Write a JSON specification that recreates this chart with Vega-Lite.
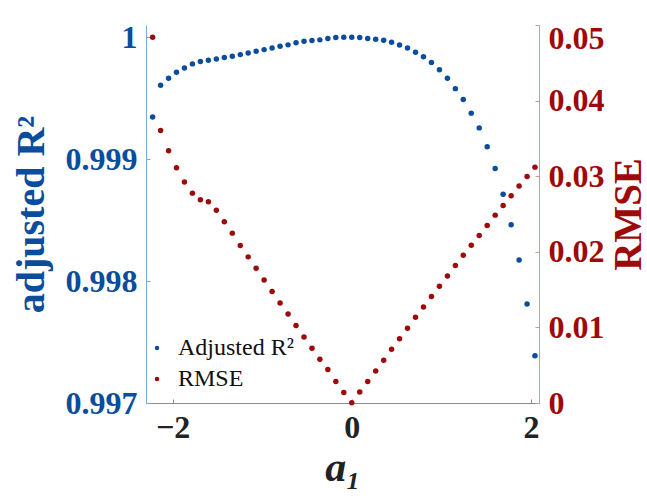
{
  "$schema": "https://vega.github.io/schema/vega-lite/v6.json",
  "width": 393,
  "height": 378,
  "autosize": {"type": "none"},
  "padding": {"left": 146, "top": 25, "right": 108, "bottom": 97},
  "background": "white",
  "config": {
    "view": {"stroke": null},
    "font": "Liberation Serif",
    "axis": {"grid": false, "labelFont": "Liberation Serif", "titleFont": "Liberation Serif", "labelFontWeight": "bold", "titleFontWeight": "bold"}
  },
  "data": {
    "values": [
      {"a1": -2.222, "r2": 0.999347, "rmse": 0.04837},
      {"a1": -2.133, "r2": 0.999607, "rmse": 0.03606},
      {"a1": -2.044, "r2": 0.999665, "rmse": 0.03336},
      {"a1": -1.956, "r2": 0.999714, "rmse": 0.03111},
      {"a1": -1.867, "r2": 0.999749, "rmse": 0.02922},
      {"a1": -1.778, "r2": 0.999782, "rmse": 0.02776},
      {"a1": -1.689, "r2": 0.999801, "rmse": 0.02687},
      {"a1": -1.600, "r2": 0.999812, "rmse": 0.02661},
      {"a1": -1.511, "r2": 0.999823, "rmse": 0.02551},
      {"a1": -1.422, "r2": 0.999834, "rmse": 0.02396},
      {"a1": -1.333, "r2": 0.999845, "rmse": 0.02247},
      {"a1": -1.244, "r2": 0.999858, "rmse": 0.02084},
      {"a1": -1.156, "r2": 0.999872, "rmse": 0.01933},
      {"a1": -1.067, "r2": 0.999886, "rmse": 0.01783},
      {"a1": -0.978, "r2": 0.999899, "rmse": 0.01627},
      {"a1": -0.889, "r2": 0.999913, "rmse": 0.01475},
      {"a1": -0.800, "r2": 0.999927, "rmse": 0.01324},
      {"a1": -0.711, "r2": 0.999938, "rmse": 0.01178},
      {"a1": -0.622, "r2": 0.999956, "rmse": 0.01025},
      {"a1": -0.533, "r2": 0.999968, "rmse": 0.00874},
      {"a1": -0.444, "r2": 0.999973, "rmse": 0.00724},
      {"a1": -0.356, "r2": 0.999979, "rmse": 0.00579},
      {"a1": -0.267, "r2": 0.99999, "rmse": 0.00442},
      {"a1": -0.178, "r2": 0.999998, "rmse": 0.00283},
      {"a1": -0.089, "r2": 1.000001, "rmse": 0.00138},
      {"a1": 0.0, "r2": 1.000001, "rmse": 0.00003},
      {"a1": 0.089, "r2": 0.999998, "rmse": 0.00146},
      {"a1": 0.178, "r2": 0.999991, "rmse": 0.00283},
      {"a1": 0.267, "r2": 0.999985, "rmse": 0.00424},
      {"a1": 0.356, "r2": 0.999975, "rmse": 0.00565},
      {"a1": 0.444, "r2": 0.99996, "rmse": 0.00711},
      {"a1": 0.533, "r2": 0.999936, "rmse": 0.0085},
      {"a1": 0.622, "r2": 0.999913, "rmse": 0.00989},
      {"a1": 0.711, "r2": 0.999878, "rmse": 0.01134},
      {"a1": 0.800, "r2": 0.99984, "rmse": 0.01271},
      {"a1": 0.889, "r2": 0.999793, "rmse": 0.01409},
      {"a1": 0.978, "r2": 0.999733, "rmse": 0.01545},
      {"a1": 1.067, "r2": 0.999665, "rmse": 0.01681},
      {"a1": 1.156, "r2": 0.999579, "rmse": 0.01819},
      {"a1": 1.244, "r2": 0.999489, "rmse": 0.01955},
      {"a1": 1.333, "r2": 0.999378, "rmse": 0.02088},
      {"a1": 1.422, "r2": 0.999257, "rmse": 0.02216},
      {"a1": 1.511, "r2": 0.999103, "rmse": 0.02348},
      {"a1": 1.600, "r2": 0.998923, "rmse": 0.02485},
      {"a1": 1.689, "r2": 0.998713, "rmse": 0.02611},
      {"a1": 1.778, "r2": 0.998463, "rmse": 0.0274},
      {"a1": 1.867, "r2": 0.998174, "rmse": 0.02869},
      {"a1": 1.956, "r2": 0.997813, "rmse": 0.02997},
      {"a1": 2.044, "r2": 0.997388, "rmse": 0.0312}
    ]
  },
  "encoding": {
    "x": {
      "field": "a1", "type": "quantitative",
      "scale": {"domain": [-2.296, 2.089], "nice": false, "zero": false},
      "axis": {
        "values": [-2, 0, 2], "format": "d",
        "title": "a₁", "titleFontSize": 42, "titleFontStyle": "italic", "titleColor": "#222222", "titlePadding": 4,
        "labelFontSize": 32, "labelColor": "#222222", "labelPadding": 13,
        "domainColor": "#8a8a8a", "tickColor": "#8a8a8a", "tickSize": -4
      }
    },
    "color": {
      "type": "nominal",
      "scale": {"domain": ["Adjusted R²", "RMSE"], "range": ["#0a4d9c", "#9e0a0a"]},
      "legend": {
        "orient": "none", "legendX": -1, "legendY": 311, "title": null,
        "labelFont": "Liberation Serif", "labelFontSize": 24, "labelColor": "#111111",
        "symbolType": "circle", "symbolSize": 20, "rowPadding": 7, "labelOffset": 9, "padding": 0
      }
    }
  },
  "layer": [
    {
      "mark": {"type": "point", "filled": true, "size": 30, "opacity": 1},
      "encoding": {
        "y": {
          "field": "r2", "type": "quantitative",
          "scale": {"domain": [0.997, 1.000101], "nice": false, "zero": false},
          "axis": {
            "orient": "left", "values": [0.997, 0.998, 0.999, 1], "format": ".3~f",
            "title": "adjusted R²", "titleFontSize": 40, "titleColor": "#0a4d9c", "titlePadding": 14,
            "labelFontSize": 32, "labelColor": "#0a4d9c", "labelPadding": 13,
            "domainColor": "#7fa8d2", "tickColor": "#7fa8d2", "tickSize": -4
          }
        },
        "color": {"datum": "Adjusted R²"}
      }
    },
    {
      "mark": {"type": "point", "filled": true, "size": 30, "opacity": 1},
      "encoding": {
        "y": {
          "field": "rmse", "type": "quantitative",
          "scale": {"domain": [0, 0.05], "nice": false, "zero": false},
          "axis": {
            "orient": "right", "values": [0, 0.01, 0.02, 0.03, 0.04, 0.05], "format": ".2~f",
            "title": "RMSE", "titleFontSize": 39, "titleColor": "#9e0a0a", "titlePadding": 44, "titleAngle": 270,
            "labelFontSize": 32, "labelColor": "#9e0a0a", "labelPadding": 13,
            "labelOffset": {"expr": "datum.value >= 0.05 ? 13 : 0"},
            "domainColor": "#c99a9a", "tickColor": "#c99a9a", "tickSize": -4
          }
        },
        "color": {"datum": "RMSE"}
      }
    }
  ],
  "resolve": {"scale": {"y": "independent"}}
}
